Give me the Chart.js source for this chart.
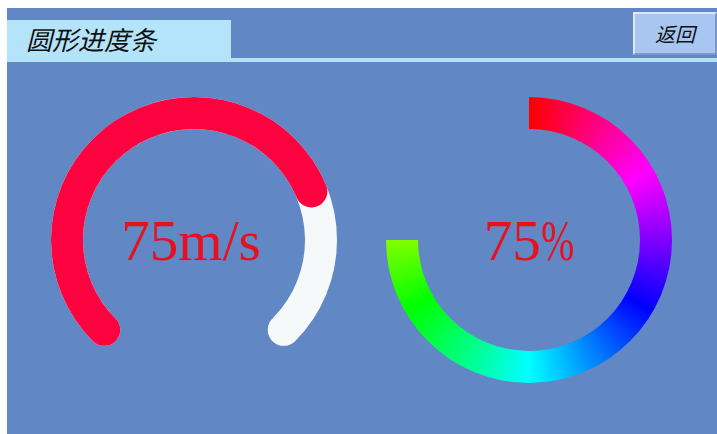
<!DOCTYPE html>
<html>
<head>
<meta charset="utf-8">
<script src="https://cdn.jsdelivr.net/npm/chart.js@4/dist/chart.umd.min.js"></script>
<style>
  body { margin: 0; width: 717px; height: 434px; background: #fff; position: relative; overflow: hidden; font-family: "Noto Sans CJK SC", sans-serif; }
  #panel { position: absolute; left: 7px; top: 8px; width: 710px; height: 426px; background: #6188c5; }
  #titleBox { position: absolute; left: 7px; top: 20px; width: 224px; height: 39px; background: #b4e4fa; }
  #titleBox span { position: absolute; left: 19px; top: 3px; font-size: 26px; font-style: italic; color: #111; line-height: 32px; }
  #rule { position: absolute; left: 7px; top: 58px; width: 710px; height: 4px; background: #b4e4fa; }
  #back { position: absolute; left: 633px; top: 12px; width: 80px; height: 39px; background: #a8c6ef;
          border-top: 2px solid #dbe8fa; border-left: 2px solid #dbe8fa; border-bottom: 2px solid #7b98c8; border-right: 2px solid #7b98c8;
          font-size: 20px; font-style: italic; color: #111; text-align: center; line-height: 39px; }
  canvas { position: absolute; }
  .val { position: absolute; width: 300px; text-align: center; font-family: "Liberation Serif", serif; font-size: 57px; line-height: 57px; color: #e8101c; }
  .pct { display: inline-block; transform: scaleX(0.7); transform-origin: left; margin-right: -14px; }
</style>
</head>
<body>
<div id="panel"></div>
<div id="titleBox"><span>圆形进度条</span></div>
<div id="rule"></div>
<div id="back">返回</div>

<canvas id="speedTrack" width="286" height="286" style="left:51px;top:97px"></canvas>
<canvas id="speedBar" width="286" height="286" style="left:51px;top:97px"></canvas>
<canvas id="progress" width="286" height="286" style="left:386px;top:97px"></canvas>

<div class="val" id="speedText" style="left:41px;top:212px"></div>
<div class="val" id="progressText" style="left:379px;top:212px"></div>

<script>
// data
const speedLabels = ["速度"];
const speedValues = [75];
const speedMax = [100];
const speedUnit = "m/s";
const progressLabels = ["完成", "未完成"];
const progressValues = [75, 25];

// gauge geometry (left dial sweeps 270 deg, starting bottom-left)
const outerR = 143;
const innerR = 111;
const sweep = 270;
const startRot = 225;
const half = (outerR - innerR) / 2;
const capDeg = Math.asin(half / ((outerR + innerR) / 2)) * 180 / Math.PI;

function baseOptions(rotation) {
  return {
    responsive: false,
    animation: false,
    events: [],
    cutout: (innerR / outerR * 100) + "%",
    rotation: rotation,
    circumference: 360,
    layout: { padding: 0 },
    plugins: { legend: { display: false }, tooltip: { enabled: false } }
  };
}

// white track with round ends
const trackDeg = sweep + 2 * capDeg;
new Chart(document.getElementById("speedTrack"), {
  type: "doughnut",
  data: {
    labels: ["track", "gap"],
    datasets: [{
      data: [trackDeg, 360 - trackDeg],
      backgroundColor: ["#f5f9fa", "rgba(0,0,0,0)"],
      borderWidth: 0,
      borderRadius: [half, 0]
    }]
  },
  options: baseOptions(startRot - capDeg)
});

// red value arc on top
const barDeg = speedValues[0] / speedMax[0] * sweep + 2 * capDeg;
new Chart(document.getElementById("speedBar"), {
  type: "doughnut",
  data: {
    labels: [speedLabels[0], ""],
    datasets: [{
      data: [barDeg, 360 - barDeg],
      backgroundColor: ["#fc0340", "rgba(0,0,0,0)"],
      borderWidth: 0,
      borderRadius: [half, 0]
    }]
  },
  options: baseOptions(startRot - capDeg)
});

// rainbow progress ring
new Chart(document.getElementById("progress"), {
  type: "doughnut",
  data: {
    labels: progressLabels,
    datasets: [{
      data: progressValues,
      borderWidth: 0,
      backgroundColor: function (ctx) {
        if (ctx.dataIndex !== 0) return "rgba(0,0,0,0)";
        const area = ctx.chart.chartArea;
        if (!area) return "#ff0000";
        const cx = (area.left + area.right) / 2;
        const cy = (area.top + area.bottom) / 2;
        const g = ctx.chart.ctx.createConicGradient(-Math.PI / 2, cx, cy);
        for (let i = 0; i <= 12; i++) {
          const t = i / 12;
          g.addColorStop(t, "hsl(" + (360 - 360 * t) + ",100%,50%)");
        }
        return g;
      }
    }]
  },
  options: baseOptions(0)
});

document.getElementById("speedText").textContent = speedValues[0] + speedUnit;
document.getElementById("progressText").innerHTML =
  progressValues[0] + '<span class="pct">%</span>';
</script>
</body>
</html>
